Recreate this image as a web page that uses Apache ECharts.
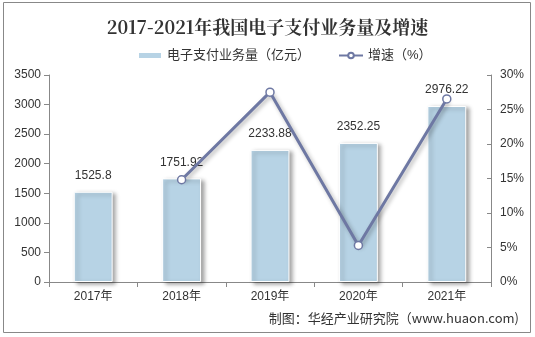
<!DOCTYPE html>
<html><head><meta charset="utf-8">
<script src="https://cdn.jsdelivr.net/npm/echarts@6/dist/echarts.min.js"></script>
<style>html,body{margin:0;padding:0;background:#fff}#c{width:535px;height:337px}</style>
</head><body><div id="c"></div>
<script>
const categories = ['2017年','2018年','2019年','2020年','2021年'];
const volumeValues = [1525.8, 1751.92, 2233.88, 2352.25, 2976.22];
const growthValues = [null, 14.82, 27.51, 5.30, 26.53];
const volumeName = '电子支付业务量（亿元）';
const growthName = '增速（%）';
const titleText = '2017-2021年我国电子支付业务量及增速';
const sourceText = '制图：华经产业研究院（www.huaon.com)';

const font = '"Liberation Sans","Noto Sans CJK SC",Arial,sans-serif';
const chart = echarts.init(document.getElementById('c'), null, {renderer:'canvas'});
chart.setOption({
  animation:false,
  backgroundColor:'#fff',
  title:{text:titleText,left:'center',top:13,textStyle:{fontFamily:'"Noto Serif CJK SC","Noto Sans CJK SC",serif',fontWeight:'bold',fontSize:18,color:'#333'}},
  legend:{top:44,left:132,itemGap:28,itemWidth:24,itemHeight:7,
    textStyle:{fontFamily:font,fontSize:13,color:'#333'},
    data:[{name:volumeName,icon:'rect'},{name:growthName}]},
  grid:{left:49,right:44,top:75,bottom:55},
  graphic:[
    {type:'rect',shape:{x:3.5,y:2.5,width:527,height:330},style:{fill:'none',stroke:'#888',lineWidth:1},z:-1},
    {type:'text',right:16,top:312,style:{text:sourceText,font:'13px "Noto Sans CJK SC",sans-serif',fill:'#333'}}
  ],
  xAxis:{type:'category',data:categories,
    axisLine:{lineStyle:{color:'#888'}},
    axisTick:{show:true,alignWithLabel:false,length:5,lineStyle:{color:'#888'}},
    axisLabel:{fontFamily:font,fontSize:12,color:'#333',margin:9}},
  yAxis:[
    {type:'value',min:0,max:3500,interval:500,
      axisLine:{show:true,lineStyle:{color:'#888'}},
      axisTick:{show:true,length:5,lineStyle:{color:'#888'}},
      splitLine:{show:false},
      axisLabel:{fontFamily:font,fontSize:12,color:'#333',margin:8,formatter:v=>String(v)}},
    {type:'value',min:0,max:30,interval:5,position:'right',
      axisLine:{show:true,lineStyle:{color:'#888'}},
      axisTick:{show:true,inside:true,length:4,lineStyle:{color:'#888'}},
      splitLine:{show:false},
      axisLabel:{fontFamily:font,fontSize:12,color:'#333',margin:9,formatter:'{value}%'}}
  ],
  series:[
    {name:volumeName,type:'bar',data:volumeValues,barWidth:'44%',yAxisIndex:0,
      itemStyle:{color:'#b7d3e5',borderColor:'#fff',borderWidth:1,shadowColor:'rgba(0,0,0,0.35)',shadowBlur:4,shadowOffsetX:3,shadowOffsetY:2},
      label:{show:true,position:'top',distance:10,fontFamily:font,fontSize:12,color:'#333'}},
    {name:growthName,type:'line',data:growthValues,yAxisIndex:1,
      symbol:'circle',symbolSize:8,
      lineStyle:{color:'#6e78a3',width:3,shadowColor:'rgba(0,0,0,0.3)',shadowBlur:4,shadowOffsetX:2,shadowOffsetY:2},
      itemStyle:{color:'#fff',borderColor:'#6e78a3',borderWidth:1.5}}
  ]
});
</script></body></html>
